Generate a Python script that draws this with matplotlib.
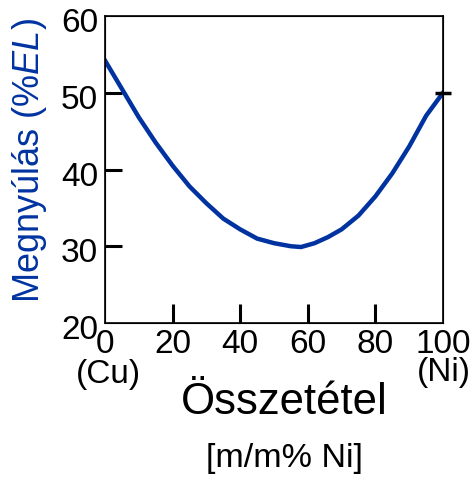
import numpy as np
import matplotlib.pyplot as plt
from matplotlib.transforms import ScaledTranslation

# elongation vs Ni content (Cu-Ni)
ni = [0, 5, 10, 15, 20, 25, 30, 35, 40, 45, 50, 55, 58, 62, 66, 70, 75, 80, 85, 90, 95, 100]
el = [54.2, 50.5, 46.8, 43.5, 40.5, 37.8, 35.6, 33.6, 32.2, 31.0, 30.4, 30.0, 29.9, 30.4, 31.2, 32.2, 34.0, 36.5, 39.5, 43.0, 47.0, 50.0]
xticks = [0, 20, 40, 60, 80, 100]
yticks = [20, 30, 40, 50, 60]

plt.rcParams['font.family'] = ['Liberation Sans', 'DejaVu Sans']
plt.rcParams['mathtext.fontset'] = 'custom'
plt.rcParams['mathtext.it'] = 'Liberation Sans:italic'
plt.rcParams['mathtext.rm'] = 'Liberation Sans'
blue = '#0033a0'

fig = plt.figure(figsize=(4.72, 4.79), dpi=100)
ax = fig.add_axes([105/472, 1-323/479, 338/472, 307/479])
ax.plot(ni, el, color=blue, lw=3.2, solid_joinstyle='miter')
ax.set_xlim(0, 100)
ax.set_ylim(20, 60)

ax.xaxis.remove_overlapping_locs = False
ax.yaxis.remove_overlapping_locs = False
ax.set_xticks(xticks)
ax.set_yticks(yticks)
ax.tick_params(which='major', length=0, labelsize=24)
ax.tick_params(axis='x', which='major', pad=4)
ax.tick_params(axis='y', which='major', pad=5)
ax.set_xticks([20, 40, 60, 80], minor=True)
ax.set_yticks([30, 40, 50], minor=True)
ax.tick_params(which='minor', direction='in', width=2.2, color='black')
ax.tick_params(axis='x', which='minor', length=14)
ax.tick_params(axis='y', which='minor', length=12)
for s in ax.spines.values():
    s.set_linewidth(1.2)
# labels sit a little below their ticks in the original
shift = ScaledTranslation(0, -4/100, fig.dpi_scale_trans)
for lbl in ax.get_yticklabels():
    lbl.set_transform(lbl.get_transform() + shift)

ax2 = ax.twinx()
ax2.set_ylim(20, 60)
ax2.set_yticks([])
ax2.set_yticks([50], minor=True)
ax2.tick_params(which='minor', direction='inout', length=12, width=2.5)
ax2.yaxis.set_minor_formatter(plt.NullFormatter())

fig.text(108/472, 1-374/479, '(Cu)', ha='center', va='center', fontsize=24)
fig.text(444/472, 1-372/479, '(Ni)', ha='center', va='center', fontsize=24)

fig.text(284/472, 1-403/479, 'Összetétel', ha='center', va='center', fontsize=31.5)
fig.text(284/472, 1-458/479, '[m/m% Ni]', ha='center', va='center', fontsize=24.5)
fig.text(30/472, 1-161/479, 'Megnyúlás (%$\\mathit{EL}$)', rotation=90,
         ha='center', va='center', fontsize=26, color=blue)

fig.savefig('out.png', dpi=100)
